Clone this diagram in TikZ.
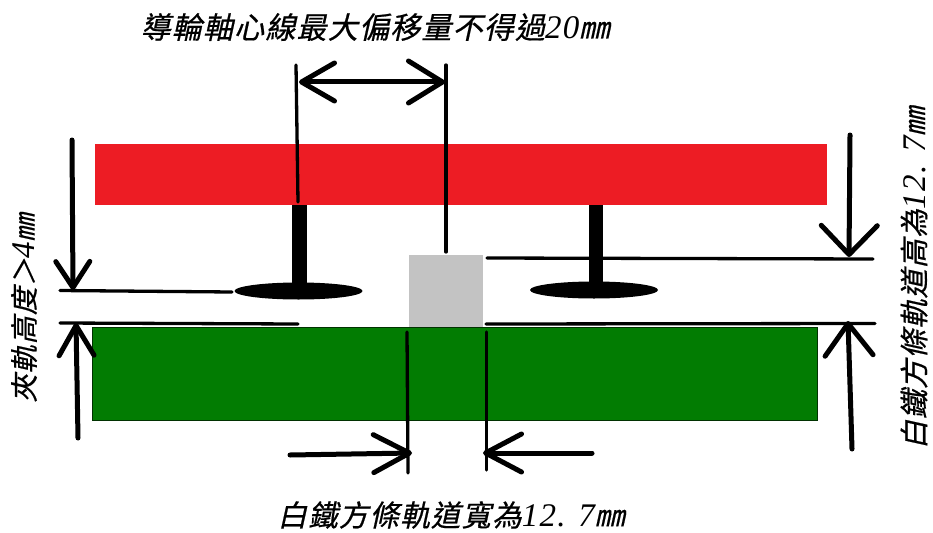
\documentclass[tikz,border=0pt]{standalone}
\usepackage{fontspec}
\usetikzlibrary{arrows.meta,shapes.geometric}
\newfontfamily\cjkslant[FakeSlant=0.22,FakeBold=0.6,LetterSpace=4]{Noto Sans CJK TC}
\newfontfamily\numslant[LetterSpace=4]{Liberation Serif Italic}
\definecolor{railred}{HTML}{ED1C24}
\definecolor{railgreen}{HTML}{027C02}
\definecolor{blockgray}{HTML}{C3C3C3}
\tikzset{
  x=1pt,y=-1pt,
  part/.style={inner sep=0pt,outer sep=0pt,anchor=north west},
  wheel/.style={ellipse,fill=black,inner sep=0pt,minimum width=128pt,minimum height=17pt},
  guide/.style={draw=black,line width=3.3pt,line cap=round},
  barb/.style={draw=black,line width=5pt,line cap=round},
  capt/.style={inner sep=0pt,font=\fontsize{30}{32}\selectfont},
  captb/.style={inner sep=0pt,font=\fontsize{29.5}{32}\selectfont},
  captr/.style={inner sep=0pt,font=\fontsize{29}{32}\selectfont},
  capts/.style={inner sep=0pt,font=\fontsize{28}{32}\selectfont},
}
\newcommand{\nn}[1]{{\numslant\fontsize{33}{34}\selectfont #1}}
\newcommand{\hd}[2]{Straight Barb[length=#1pt,width=#2pt,line width=5pt,round]}
\begin{document}
\begin{tikzpicture}
\useasboundingbox (0,0) rectangle (933,532);
\fill[white] (0,0) rectangle (933,532);
% parts
\node[part,fill=railred,minimum width=732pt,minimum height=61pt] (red) at (95,144) {};
\node[part,fill=railgreen,draw=black!60!railgreen,line width=.6pt,minimum width=725pt,minimum height=93pt] (green) at (92,327) {};
\node[part,fill=blockgray,minimum width=74pt,minimum height=72pt] (block) at (409,255) {};
\node[part,fill=black,minimum width=15pt,minimum height=80pt] (stemL) at (292,205) {};
\node[part,fill=black,minimum width=14pt,minimum height=78pt] (stemR) at (589,205) {};
\node[wheel] (wheelL) at (298.5,291) {};
\node[wheel] (wheelR) at (594,290) {};
% named ends
\coordinate (t1) at (296,65); \coordinate (t2) at (298,202);
\coordinate (t3) at (446,65); \coordinate (t4) at (446,252);
\coordinate (d1) at (299,82); \coordinate (d2) at (445,82);
\coordinate (la) at (72,140); \coordinate (lb) at (73,290);
\coordinate (lc) at (78,438); \coordinate (ld) at (76,323);
\coordinate (g1) at (60,290.5); \coordinate (g2) at (232,292);
\coordinate (g3) at (60,323); \coordinate (g4) at (298,324);
\coordinate (g5) at (487,258); \coordinate (g6) at (873,259);
\coordinate (g7) at (486,324); \coordinate (g8) at (875,323.5);
\coordinate (ra) at (850,135); \coordinate (rb) at (849,257);
\coordinate (rc) at (852,449); \coordinate (rd) at (848,321);
\coordinate (v1) at (407,332); \coordinate (v2) at (408,473);
\coordinate (v3) at (486.5,332); \coordinate (v4) at (486.5,470);
\coordinate (ba) at (290,455); \coordinate (bb) at (412,453);
\coordinate (bc) at (592,453); \coordinate (bd) at (483,453);
% guide lines
\draw[guide] (t1) -- (t2);
\draw[guide] (t3) -- (t4);
\draw[guide] (g1) -- (g2);
\draw[guide] (g3) -- (g4);
\draw[guide] (g5) -- (g6);
\draw[guide] (g7) -- (g8);
\draw[guide] (v1) -- (v2);
\draw[guide] (v3) -- (v4);
% dimension arrows
\draw[barb,{\hd{33}{38}}-{\hd{34}{42}}] (d1) -- (d2);
\draw[barb,-{\hd{26}{34}}] (la) -- (lb);
\draw[barb,-{\hd{30}{35}}] (lc) -- (ld);
\draw[barb,-{\hd{29}{56}}] (ra) -- (rb);
\draw[barb,-{\hd{32}{48}}] (rc) -- (rd);
\draw[barb,-{\hd{36}{38}}] (ba) -- (bb);
\draw[barb,-{\hd{36}{38}}] (bc) -- (bd);
% captions
\node[capt] (capTop) at (375,27) {\cjkslant 導輪軸心線最大偏移量不得過\nn{20}㎜};
\node[captb] (capBottom) at (451,515) {\cjkslant 白鐵方條軌道寬為\nn{12. 7}㎜};
\node[capts,rotate=90] (capLeft) at (24,308) {\cjkslant 夾軌高度＞\nn{4}㎜};
\node[captr,rotate=90] (capRight) at (914,278) {\cjkslant 白鐵方條軌道高為\nn{12. 7}㎜};
\end{tikzpicture}
\end{document}
